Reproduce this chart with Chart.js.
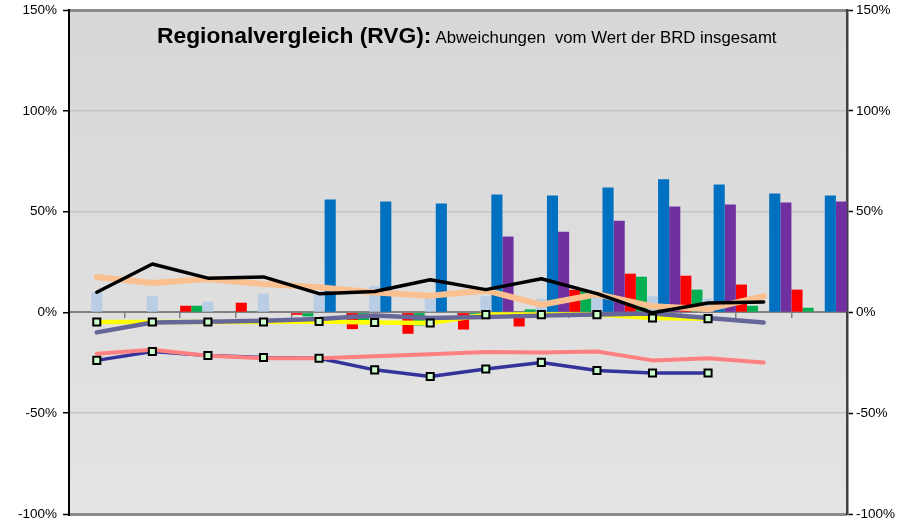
<!DOCTYPE html>
<html><head><meta charset="utf-8">
<script src="https://cdn.jsdelivr.net/npm/chart.js@4.4.0/dist/chart.umd.min.js"></script>
<style>
html,body{margin:0;padding:0;background:#fff;}
#wrap{position:relative;width:917px;height:521px;}
#title{position:absolute;left:157px;top:22px;white-space:nowrap;font-family:"Liberation Sans",Arial,sans-serif;color:#000;}
#title b{font-size:22.8px;font-weight:bold;}
#title span{font-size:16.8px;margin-left:4px;}
</style></head><body>
<div id="wrap"><canvas id="c" width="917" height="521"></canvas>
<div id="title"><b>Regionalvergleich (RVG):</b><span>Abweichungen&nbsp; vom Wert der BRD insgesamt</span></div></div>
<script>
// ---- data (percent deviation from BRD total) ----
const categories = ['1','2','3','4','5','6','7','8','9','10','11','12','13','14'];
const yTicks = [-100, -50, 0, 50, 100, 150];

const lightBlue = [10, 8, 5.3, 9.3, 8.7, 13, 6.8, 8, 6.8, 7.8, 8, 6.8, null, null];
const blue      = [null, null, null, null, 56, 55, 54, 58.5, 58, 62, 66, 63.4, 59, 58];
const purple    = [null, null, null, null, null, null, null, 37.6, 40, 45.5, 52.5, 53.5, 54.5, 55];
const red       = [null, 3.3, 4.8, -1.2, -8.3, -10.6, -8.5, -7, 11.2, 19.2, 18.2, 13.8, 11.3, null];
const green     = [null, 3.3, 0.5, -2, -4, -6.5, -1, 1.5, 11, 17.7, 11.3, 3.3, 2.3, null];

const black     = [10, 24, 17, 17.6, 9.3, 10.4, 16.2, 11.3, 16.7, 9.3, -0.2, 4.7, 5.2, null];
const orange    = [17.6, 14.6, 16.6, 14.1, 12.5, 9.9, 8.3, 10.9, 3.8, 9, 3, 1.7, 8, null];
const yellow    = [-4.8, -4.8, -4.8, -4.8, -4.5, -5, -5.3, -1.1, -1.1, -1.1, -2.8, -3.1, null, null];
const slate     = [-9.9, -5, -4.6, -4.1, -3.3, -1.5, -2.8, -2.3, -1.6, -1.1, -0.6, -2.8, -5, null];
const pink      = [-20.5, -18.5, -21.5, -22.7, -22.7, -21.8, -20.7, -19.7, -19.9, -19.4, -23.8, -22.7, -24.8, null];
const darkBlue  = [-23.8, -19.4, -21.4, -22.4, -22.7, -28.5, -31.8, -28.1, -24.8, -28.8, -30.1, -30.1, null, null];

// ---- chart ----
const FONT = {family: '"Liberation Sans", Arial, sans-serif', size: 13.5};

const bgPlugin = {
  id: 'plotBg',
  beforeDraw(chart) {
    const {ctx, chartArea: a} = chart;
    const g = ctx.createLinearGradient(0, a.top, 0, a.bottom);
    g.addColorStop(0, '#D7D7D7');
    g.addColorStop(1, '#E4E4E4');
    ctx.save();
    ctx.fillStyle = g;
    ctx.fillRect(a.left, a.top, a.right - a.left, a.bottom - a.top);
    ctx.restore();
  }
};

// Empty slots so that the bar cluster starts at the category centre (as in the original)
const spacer = () => ({type: 'bar', label: '', data: categories.map(() => null), order: 10,
  categoryPercentage: 1.8, barPercentage: 1, backgroundColor: 'rgba(0,0,0,0)'});
const bar = (label, data, color) => ({type: 'bar', label, data, backgroundColor: color, borderWidth: 0,
  order: 10, categoryPercentage: 1.8, barPercentage: 1, yAxisID: 'y'});
const line = (label, data, color, width, order) => ({type: 'line', label, data, borderColor: color,
  backgroundColor: color, borderWidth: width, pointRadius: 0, tension: 0, order, yAxisID: 'y',
  borderCapStyle: 'round', borderJoinStyle: 'round'});
const markers = (label, data) => ({type: 'line', label, data, showLine: false, pointStyle: 'rect',
  pointRadius: 5, pointBackgroundColor: '#CCFFCC', pointBorderColor: '#000', pointBorderWidth: 2,
  order: 0, yAxisID: 'y'});

const fitY = w => s => { s.width = w; s.paddingTop = 0; s.paddingBottom = 0; };

new Chart(document.getElementById('c'), {
  data: {
    labels: categories,
    datasets: [
      spacer(), spacer(), spacer(), spacer(),
      bar('Hellblau', lightBlue, '#B9CDE5'),
      bar('Blau', blue, '#0070C0'),
      bar('Violett', purple, '#7030A0'),
      bar('Rot', red, '#FF0000'),
      bar('Grün', green, '#00B050'),
      line('Orange', orange, '#FAC08F', 6, 6),
      line('Dunkelblau', darkBlue, '#333399', 3.5, 5),
      line('Rosa', pink, '#FF8080', 4, 4),
      line('Schiefer', slate, '#666699', 4.5, 2),
      line('Gelb', yellow, '#FFFF00', 4.5, 3),
      line('Schwarz', black, '#000000', 3.5, 1),
      markers('Gelb Marker', yellow),
      markers('Dunkelblau Marker', darkBlue)
    ]
  },
  options: {
    responsive: false,
    animation: false,
    events: [],
    layout: {padding: {top: 10, bottom: 7, left: 0, right: 0}},
    plugins: {legend: {display: false}, tooltip: {enabled: false}, title: {display: false}},
    scales: {
      x: {
        type: 'category',
        position: {y: 0},
        offset: true,
        grid: {offset: true, drawOnChartArea: false, drawTicks: true, tickLength: 5, color: '#808080', lineWidth: 1.5},
        border: {color: '#808080', width: 2},
        ticks: {display: false}
      },
      y: {
        position: 'left',
        min: -100, max: 150,
        afterBuildTicks: s => { s.ticks = yTicks.map(v => ({value: v})); },
        afterFit: fitY(69),
        ticks: {callback: v => v + '%', color: '#000', font: FONT, padding: 6},
        grid: {
          color: c => (c.tick.value === 150 || c.tick.value === -100) ? '#8A8A8A' : (c.tick.value === 0 ? 'rgba(0,0,0,0)' : '#C6C6C6'),
          lineWidth: c => (c.tick.value === 150 || c.tick.value === -100) ? 3 : 1.5,
          tickColor: '#000', tickLength: 6, tickWidth: 1.5
        },
        border: {color: '#000', width: 2}
      },
      y2: {
        position: 'right',
        min: -100, max: 150,
        afterBuildTicks: s => { s.ticks = yTicks.map(v => ({value: v})); },
        afterFit: fitY(70),
        ticks: {callback: v => v + '%', color: '#000', font: FONT, padding: 3},
        grid: {drawOnChartArea: false, tickColor: '#000', tickLength: 6, tickWidth: 1.5},
        border: {color: '#404040', width: 2.5}
      }
    }
  },
  plugins: [bgPlugin]
});
</script>
</body></html>
